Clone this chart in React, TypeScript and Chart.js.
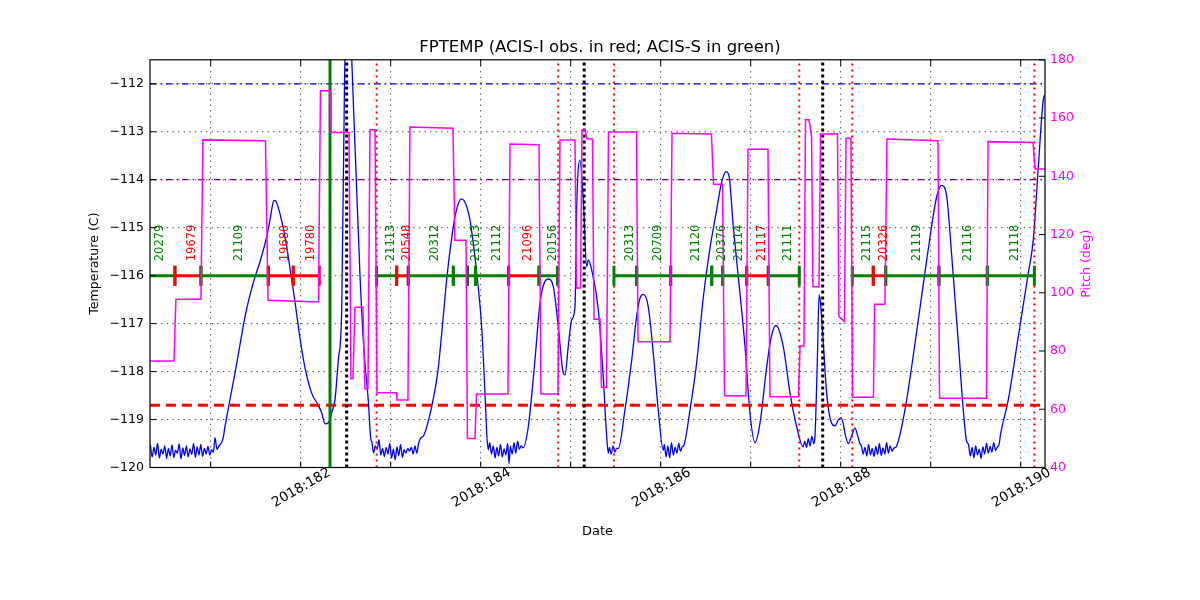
import React, { useEffect, useRef } from "react";
import { Chart, registerables } from "chart.js";
Chart.register(...registerables);

const FONT = '"DejaVu Sans", "Liberation Sans", sans-serif';

// ---- axes ----
const X_MIN = 180.326;
const X_MAX = 190.27;
const DAY_TICKS = [181, 182, 183, 184, 185, 186, 187, 188, 189, 190];
const DAY_LABELS = ["", "2018:182", "", "2018:184", "", "2018:186", "", "2018:188", "", "2018:190"];
const TEMP_MIN = -120;
const TEMP_MAX = -111.5;
const TEMP_TICKS = [-120, -119, -118, -117, -116, -115, -114, -113, -112];
const PITCH_MIN = 40;
const PITCH_MAX = 180;
const PITCH_TICKS = [40, 60, 80, 100, 120, 140, 160, 180];

const TITLE = "FPTEMP (ACIS-I obs. in red; ACIS-S in green)";

// ---- FPTEMP model (day of year, degC) ----
const TEMP_DATA: [number, number][] = [
  [180.33, -119.52], [180.35, -119.78], [180.37, -119.58], [180.39, -119.74], [180.41, -119.5],
  [180.43, -119.8], [180.45, -119.62], [180.47, -119.72], [180.49, -119.55], [180.51, -119.81],
  [180.53, -119.6], [180.55, -119.76], [180.57, -119.53], [180.59, -119.79], [180.61, -119.64],
  [180.63, -119.7], [180.65, -119.51], [180.67, -119.82], [180.69, -119.59], [180.71, -119.75],
  [180.73, -119.55], [180.75, -119.78], [180.77, -119.61], [180.79, -119.73], [180.81, -119.5],
  [180.83, -119.79], [180.85, -119.57], [180.87, -119.74], [180.89, -119.52], [180.91, -119.77],
  [180.93, -119.6], [180.95, -119.72], [180.97, -119.56], [180.99, -119.74], [181.01, -119.63],
  [181.03, -119.68],
  [181.048, -119.38], [181.07, -119.62], [181.092, -119.55], [181.114, -119.5], [181.137, -119.4],
  [181.159, -119.15], [181.214, -118.59], [181.27, -118.03], [181.326, -117.44], [181.381, -116.86],
  [181.437, -116.4], [181.492, -116.03], [181.548, -115.71], [181.622, -115.19], [181.659, -114.84],
  [181.681, -114.59], [181.703, -114.43], [181.726, -114.45], [181.748, -114.56], [181.792, -114.88],
  [181.837, -115.3], [181.881, -115.84], [181.937, -116.55], [181.992, -117.3], [182.048, -117.92],
  [182.122, -118.45], [182.196, -118.7], [182.233, -118.86], [182.27, -119.09], [182.307, -119.07],
  [182.344, -118.86], [182.381, -118.59], [182.418, -117.76], [182.456, -116.71], [182.487, -112.0],
  [182.531, -109.0], [182.57, -111.62], [182.614, -113.79], [182.659, -115.98], [182.703, -117.55],
  [182.751, -118.59], [182.781, -119.43],
  [182.79, -119.46], [182.81, -119.7], [182.83, -119.55], [182.85, -119.62], [182.87, -119.42],
  [182.89, -119.74], [182.91, -119.6], [182.93, -119.77], [182.95, -119.58], [182.97, -119.72],
  [182.99, -119.5], [183.01, -119.8], [183.03, -119.62], [183.05, -119.84], [183.07, -119.57],
  [183.09, -119.75], [183.11, -119.52], [183.13, -119.79], [183.15, -119.63], [183.17, -119.7],
  [183.19, -119.6], [183.21, -119.66], [183.23, -119.58], [183.25, -119.72], [183.27, -119.55],
  [183.29, -119.7], [183.31, -119.5],
  [183.33, -119.4], [183.37, -119.32], [183.456, -118.73], [183.526, -117.97], [183.581, -116.92],
  [183.626, -116.01], [183.681, -115.17], [183.726, -114.67], [183.787, -114.4], [183.837, -114.52],
  [183.881, -114.84], [183.92, -115.36], [183.956, -115.94], [184.011, -117.07], [184.048, -118.45],
  [184.067, -119.28], [184.084, -119.63],
  [184.1, -119.48], [184.12, -119.72], [184.14, -119.55], [184.16, -119.8], [184.18, -119.58],
  [184.2, -119.76], [184.22, -119.52], [184.24, -119.78], [184.26, -119.61], [184.28, -119.74],
  [184.3, -119.5], [184.315, -119.92], [184.33, -119.56], [184.35, -119.72], [184.37, -119.48],
  [184.39, -119.7], [184.41, -119.45], [184.43, -119.62], [184.45, -119.55],
  [184.47, -119.59], [184.529, -119.15], [184.603, -117.76], [184.659, -116.57], [184.714, -116.12],
  [184.751, -116.07], [184.807, -116.23], [184.862, -117.06], [184.918, -118.03], [184.937, -118.07],
  [184.973, -117.48], [185.011, -116.92], [185.048, -116.65], [185.067, -114.56], [185.103, -113.59],
  [185.14, -114.42], [185.178, -115.81], [185.196, -115.67], [185.233, -115.88], [185.307, -116.71],
  [185.362, -118.11], [185.4, -119.36], [185.418, -119.7],
  [185.43, -119.58], [185.45, -119.72], [185.47, -119.55], [185.49, -119.68], [185.51, -119.6],
  [185.529, -119.6], [185.603, -118.8], [185.678, -117.76], [185.733, -116.85], [185.77, -116.47],
  [185.807, -116.39], [185.862, -116.65], [185.918, -117.62], [185.973, -118.8], [186.029, -119.64],
  [186.04, -119.52], [186.06, -119.78], [186.08, -119.55], [186.1, -119.8], [186.12, -119.48],
  [186.14, -119.74], [186.16, -119.58], [186.18, -119.7], [186.2, -119.5], [186.22, -119.66],
  [186.24, -119.57],
  [186.255, -119.55], [186.326, -118.8], [186.403, -117.76], [186.473, -116.46], [186.548, -115.42],
  [186.622, -114.63], [186.67, -114.11], [186.696, -113.93], [186.726, -113.83], [186.759, -113.92],
  [186.807, -114.98], [186.881, -116.37], [186.937, -117.48], [186.992, -118.87], [187.048, -119.48],
  [187.103, -119.08], [187.178, -117.9], [187.226, -117.3], [187.281, -117.04], [187.362, -117.48],
  [187.437, -118.45], [187.511, -119.15], [187.584, -119.57],
  [187.6, -119.45], [187.62, -119.58], [187.64, -119.4], [187.66, -119.55], [187.68, -119.35],
  [187.7, -119.5], [187.715, -119.32], [187.74, -117.8], [187.76, -116.4], [187.775, -116.55],
  [187.807, -117.41], [187.844, -118.45], [187.9, -119.08], [187.937, -119.13], [187.97, -119.02],
  [188.003, -118.96], [188.03, -119.1], [188.048, -119.29], [188.084, -119.5], [188.12, -119.35],
  [188.159, -119.18], [188.19, -119.35], [188.214, -119.5],
  [188.23, -119.55], [188.25, -119.72], [188.27, -119.58], [188.29, -119.76], [188.31, -119.52],
  [188.33, -119.74], [188.35, -119.6], [188.37, -119.77], [188.39, -119.56], [188.41, -119.73],
  [188.43, -119.5], [188.45, -119.75], [188.47, -119.59], [188.49, -119.72], [188.51, -119.48],
  [188.53, -119.7], [188.55, -119.55], [188.57, -119.66], [188.59, -119.6],
  [188.622, -119.55], [188.714, -118.8], [188.826, -117.41], [188.956, -115.67], [189.067, -114.35],
  [189.122, -114.12], [189.178, -114.35], [189.233, -115.57], [189.307, -117.4], [189.362, -118.8],
  [189.4, -119.46],
  [189.42, -119.52], [189.44, -119.76], [189.46, -119.58], [189.48, -119.8], [189.5, -119.55],
  [189.52, -119.74], [189.54, -119.62], [189.56, -119.81], [189.58, -119.57], [189.6, -119.72],
  [189.62, -119.5], [189.64, -119.7], [189.66, -119.56], [189.68, -119.68], [189.7, -119.48],
  [189.72, -119.64], [189.74, -119.58], [189.76, -119.52],
  [189.775, -119.32], [189.862, -118.59], [189.973, -117.27], [190.084, -115.95], [190.14, -115.25],
  [190.195, -113.75], [190.251, -112.33], [190.27, -112.23],
];

// ---- Pitch (day of year, deg) ----
const PITCH_DATA: [number, number][] = [
  [180.326, 76.6], [180.592, 76.6], [180.614, 97.8], [180.892, 97.8], [180.914, 152.5],
  [181.609, 152.2], [181.637, 97.4], [182.198, 96.8], [182.22, 169.4], [182.326, 169.4],
  [182.337, 155.0], [182.537, 155.0], [182.559, 70.5], [182.581, 70.5], [182.603, 95.0],
  [182.692, 95.0], [182.714, 67.0], [182.748, 67.0], [182.77, 156.0], [182.826, 156.0],
  [182.848, 65.7], [183.064, 65.7], [183.07, 63.2], [183.192, 63.2], [183.214, 156.9],
  [183.692, 156.5], [183.714, 118.0], [183.837, 118.0], [183.853, 50.0], [183.937, 50.0],
  [183.953, 65.2], [184.303, 65.2], [184.326, 151.1], [184.648, 150.8], [184.67, 65.2],
  [184.859, 65.2], [184.881, 152.5], [185.048, 152.5], [185.064, 101.6], [185.109, 101.6],
  [185.126, 155.9], [185.159, 155.9], [185.181, 152.8], [185.242, 152.8], [185.259, 90.9],
  [185.326, 90.9], [185.342, 67.5], [185.398, 67.5], [185.42, 155.2], [185.731, 155.2],
  [185.748, 83.2], [186.103, 83.2], [186.126, 154.8], [186.564, 154.5], [186.587, 137.3],
  [186.687, 137.3], [186.709, 64.6], [186.948, 64.6], [186.97, 149.3], [187.192, 149.3],
  [187.214, 64.3], [187.531, 64.3], [187.548, 81.7], [187.592, 81.7], [187.609, 159.4],
  [187.648, 159.4], [187.676, 153.6], [187.692, 102.1], [187.759, 102.1], [187.776, 154.5],
  [187.964, 154.5], [187.981, 91.8], [188.042, 90.1], [188.059, 153.1], [188.114, 153.1],
  [188.131, 64.1], [188.364, 64.1], [188.376, 96.1], [188.492, 96.1], [188.514, 152.8],
  [189.081, 152.2], [189.098, 63.8], [189.62, 63.8], [189.637, 151.9], [190.137, 151.6],
  [190.159, 142.5], [190.27, 142.5],
];

// ---- observations ----
const OBS_IDS = [
  "20279", "19679", "21109", "19680", "19780", "21113", "20548", "20312", "", "21013",
  "21112", "21096", "20156", "20313", "20709", "21120", "20376", "21114", "21117", "21111",
  "21115", "20326", "21119", "21116", "21118",
];
const OBS_START = [
  180.17, 180.603, 180.892, 181.64, 181.918, 182.844, 183.067, 183.196, 183.696, 183.853,
  183.942, 184.311, 184.648, 185.481, 185.733, 186.111, 186.567, 186.689, 186.956, 187.196,
  188.129, 188.362, 188.5, 189.092, 189.629,
];
const OBS_STOP = [
  180.603, 180.892, 181.64, 181.918, 182.207, 183.067, 183.196, 183.696, 183.853, 183.942,
  184.311, 184.648, 184.853, 185.733, 186.111, 186.567, 186.689, 186.956, 187.196, 187.54,
  188.362, 188.5, 189.092, 189.629, 190.152,
];
const OBS_INSTR = [
  "S", "I", "S", "I", "I", "S", "I", "S", "S", "S",
  "S", "I", "S", "S", "S", "S", "S", "S", "I", "S",
  "S", "I", "S", "S", "S",
];
const OBS_LEVEL = -116;
const OBS_LABEL_LEVEL = -115.7;

// ---- reference lines ----
const LIMIT_VALUES = [-112, -114, -118.7];
const GREEN_LINE_TIMES = [182.326];
const BLACK_LINE_TIMES = [182.511, 185.15, 187.8];
const RED_LINE_TIMES = [182.844, 184.862, 185.481, 187.54, 188.129, 190.152];

const GREEN = "#008000";
const RED = "#ff0000";
const MAGENTA = "#ff00ff";

const decor = {
  id: "decor",
  beforeDatasetsDraw(chart: any) {
    const { ctx, chartArea: a, scales } = chart;
    const xs = scales.x;
    const ys = scales.y;
    ctx.save();
    ctx.strokeStyle = "#000";
    ctx.lineWidth = 0.7;
    ctx.setLineDash([1.4, 4.2]);
    DAY_TICKS.forEach((v) => {
      const px = xs.getPixelForValue(v);
      ctx.beginPath();
      ctx.moveTo(px, a.top);
      ctx.lineTo(px, a.bottom);
      ctx.stroke();
    });
    TEMP_TICKS.forEach((v) => {
      const py = ys.getPixelForValue(v);
      ctx.beginPath();
      ctx.moveTo(a.left, py);
      ctx.lineTo(a.right, py);
      ctx.stroke();
    });
    ctx.restore();
  },
  afterDatasetsDraw(chart: any) {
    const { ctx, chartArea: a, scales } = chart;
    const xs = scales.x;
    const ys = scales.y;
    const ps = scales.y2;
    ctx.save();
    // obsid labels
    ctx.font = `11.5px ${FONT}`;
    ctx.textAlign = "left";
    ctx.textBaseline = "middle";
    OBS_IDS.forEach((id, i) => {
      if (!id) return;
      const cx = xs.getPixelForValue((OBS_START[i] + OBS_STOP[i]) / 2);
      const by = ys.getPixelForValue(OBS_LABEL_LEVEL);
      ctx.save();
      ctx.translate(cx + 4.5, by);
      ctx.rotate(-Math.PI / 2);
      ctx.fillStyle = OBS_INSTR[i] === "I" ? RED : GREEN;
      ctx.fillText(id, 0, 0);
      ctx.restore();
    });
    // frame
    ctx.setLineDash([]);
    ctx.strokeStyle = "#000";
    ctx.lineWidth = 1.2;
    ctx.strokeRect(a.left, a.top, a.right - a.left, a.bottom - a.top);
    // inward ticks
    ctx.lineWidth = 1;
    const TL = 6;
    ctx.beginPath();
    DAY_TICKS.forEach((v) => {
      const px = xs.getPixelForValue(v);
      ctx.moveTo(px, a.bottom);
      ctx.lineTo(px, a.bottom - TL);
      ctx.moveTo(px, a.top);
      ctx.lineTo(px, a.top + TL);
    });
    TEMP_TICKS.forEach((v) => {
      const py = ys.getPixelForValue(v);
      ctx.moveTo(a.left, py);
      ctx.lineTo(a.left + TL, py);
    });
    PITCH_TICKS.forEach((v) => {
      const py = ps.getPixelForValue(v);
      ctx.moveTo(a.right, py);
      ctx.lineTo(a.right - TL, py);
    });
    ctx.stroke();
    // right axis title
    ctx.save();
    ctx.font = `12.6px ${FONT}`;
    ctx.fillStyle = MAGENTA;
    ctx.textAlign = "center";
    ctx.textBaseline = "middle";
    ctx.translate(1087, (a.top + a.bottom) / 2);
    ctx.rotate(-Math.PI / 2);
    ctx.fillText("Pitch (deg)", 0, 0);
    ctx.restore();
    ctx.restore();
  },
};

function App() {
  const ref = useRef<HTMLCanvasElement>(null);
  useEffect(() => {
    document.body.style.margin = "0";
    const canvas = ref.current!;
    const datasets: any[] = [];

    datasets.push({
      label: "pitch",
      data: PITCH_DATA.map(([x, y]) => ({ x, y })),
      yAxisID: "y2",
      borderColor: MAGENTA,
      borderWidth: 1.5,
      pointRadius: 0,
      tension: 0,
      order: 0,
    });

    OBS_IDS.forEach((id, i) => {
      const c = OBS_INSTR[i] === "I" ? RED : GREEN;
      datasets.push({
        label: "obs" + i,
        data: [
          { x: OBS_START[i], y: OBS_LEVEL },
          { x: OBS_STOP[i], y: OBS_LEVEL },
        ],
        yAxisID: "y",
        borderColor: c,
        borderWidth: 3,
        pointStyle: "line",
        pointRotation: 90,
        pointRadius: 10,
        pointBorderWidth: 3,
        pointBorderColor: c,
        pointBackgroundColor: c,
        order: 50 - i,
      });
    });

    const vline = (t: number, color: string, width: number, dash: number[], order: number) => ({
      label: "v" + t,
      data: [
        { x: t, y: TEMP_MIN },
        { x: t, y: TEMP_MAX },
      ],
      yAxisID: "y",
      borderColor: color,
      borderWidth: width,
      borderDash: dash,
      pointRadius: 0,
      order,
    });
    GREEN_LINE_TIMES.forEach((t) => datasets.push(vline(t, GREEN, 3, [], 60)));
    BLACK_LINE_TIMES.forEach((t) => datasets.push(vline(t, "#000000", 3, [3, 3], 61)));
    RED_LINE_TIMES.forEach((t) => datasets.push(vline(t, RED, 2, [2, 4], 62)));

    const limitStyles = [
      { color: "#0000ff", width: 1.2, dash: [6.5, 4, 1.5, 4] },
      { color: "#800080", width: 1.2, dash: [6.5, 4, 1.5, 4] },
      { color: RED, width: 3, dash: [10, 6] },
    ];
    LIMIT_VALUES.forEach((v, i) => {
      datasets.push({
        label: "lim" + v,
        data: [
          { x: X_MIN, y: v },
          { x: X_MAX, y: v },
        ],
        yAxisID: "y",
        borderColor: limitStyles[i].color,
        borderWidth: limitStyles[i].width,
        borderDash: limitStyles[i].dash,
        pointRadius: 0,
        order: 70 + i,
      });
    });

    datasets.push({
      label: "FPTEMP",
      data: TEMP_DATA.map(([x, y]) => ({ x, y })),
      yAxisID: "y",
      borderColor: "#0000ff",
      borderWidth: 1.3,
      pointRadius: 0,
      cubicInterpolationMode: "monotone",
      order: 100,
    });

    const tickFont = { family: FONT, size: 12.6 };
    const chart = new Chart(canvas, {
      type: "line",
      data: { datasets },
      options: {
        responsive: false,
        animation: false,
        events: [],
        layout: { padding: 0 },
        plugins: {
          legend: { display: false },
          tooltip: { enabled: false },
          title: {
            display: true,
            text: TITLE,
            color: "#000",
            font: { family: FONT, size: 16.5, weight: "normal" },
            padding: { top: 38, bottom: 2 },
          },
        },
        scales: {
          x: {
            type: "linear",
            position: "bottom",
            min: X_MIN,
            max: X_MAX,
            grid: { display: false, drawTicks: false },
            border: { display: false },
            afterBuildTicks: (s: any) => {
              s.ticks = DAY_TICKS.map((v) => ({ value: v }));
            },
            afterFit: (s: any) => {
              s.height = 132.5;
            },
            ticks: {
              autoSkip: false,
              minRotation: 30,
              maxRotation: 30,
              labelOffset: 29,
              padding: -3,
              color: "#000",
              font: { family: FONT, size: 13.6 },
              callback: (_v: any, i: number) => DAY_LABELS[i],
            },
            title: {
              display: true,
              text: "Date",
              color: "#000",
              font: { family: FONT, size: 13 },
              padding: { top: 0, bottom: 61 },
            },
          },
          y: {
            type: "linear",
            position: "left",
            min: TEMP_MIN,
            max: TEMP_MAX,
            grid: { display: false, drawTicks: false },
            border: { display: false },
            afterBuildTicks: (s: any) => {
              s.ticks = TEMP_TICKS.map((v) => ({ value: v }));
            },
            afterFit: (s: any) => {
              s.width = 150;
            },
            ticks: {
              padding: 6,
              color: "#000",
              font: tickFont,
              callback: (v: any) => "\u2212" + Math.abs(Number(v)),
            },
            title: {
              display: true,
              text: "Temperature (C)",
              color: "#000",
              font: tickFont,
              padding: { top: 87, bottom: 0 },
            },
          },
          y2: {
            type: "linear",
            position: "right",
            min: PITCH_MIN,
            max: PITCH_MAX,
            grid: { display: false, drawTicks: false },
            border: { display: false },
            afterBuildTicks: (s: any) => {
              s.ticks = PITCH_TICKS.map((v) => ({ value: v }));
            },
            afterFit: (s: any) => {
              s.width = 155;
            },
            ticks: {
              padding: 5,
              color: MAGENTA,
              font: tickFont,
            },
          },
        },
      } as any,
      plugins: [decor as any],
    });
    return () => chart.destroy();
  }, []);
  return (
    <div style={{ width: 1200, height: 600 }}>
      <canvas ref={ref} width={1200} height={600} style={{ display: "block" }} />
    </div>
  );
}

export default App;
